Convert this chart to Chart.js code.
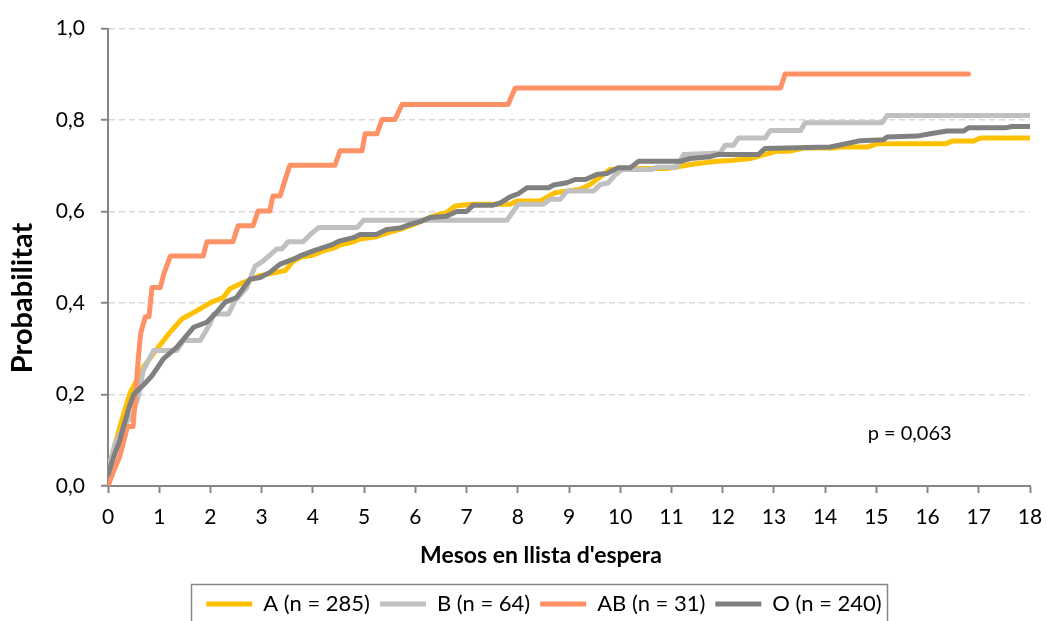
<!DOCTYPE html>
<html><head><meta charset="utf-8">
<script src="https://cdn.jsdelivr.net/npm/chart.js@4.4.1/dist/chart.umd.min.js"></script>
<style>html,body{margin:0;padding:0;background:#fff;overflow:hidden}#wrap{position:relative;width:1047px;height:621px}</style>
</head><body><div id="wrap"><canvas id="c" width="1047" height="621"></canvas></div>
<script>
const FONT = 'Lato, "Liberation Sans", sans-serif';
const seriesLabels = ['A (n = 285)', 'B (n = 64)', 'AB (n = 31)', 'O (n = 240)'];
const seriesColors = ['#FFC000', '#C0C0C0', '#FF9166', '#808080'];
const xTitle = "Mesos en llista d'espera";
const yTitle = 'Probabilitat';
const pText = 'p = 0,063';
const xTickValues = [0,1,2,3,4,5,6,7,8,9,10,11,12,13,14,15,16,17,18];
const yTickValues = [0, 0.2, 0.4, 0.6, 0.8, 1.0];

const aMonths = [0,0.04,0.23,0.43,0.69,0.98,1.21,1.44,1.73,2.02,2.25,2.38,2.64,2.97,3.29,3.46,3.6,3.75,4.01,4.2,4.4,4.53,4.79,4.92,5.24,5.44,5.7,5.9,6.1,6.35,6.61,6.78,7.1,7.85,7.98,8.44,8.73,9.22,9.41,9.67,9.8,10.26,10.91,11.18,11.43,11.89,12.21,12.54,12.83,13.06,13.32,13.58,14.16,14.3,14.82,15.01,16.35,16.48,16.9,17.03,18];
const aProb = [0.035,0.05,0.129,0.203,0.26,0.303,0.336,0.365,0.383,0.402,0.412,0.431,0.445,0.46,0.467,0.471,0.49,0.5,0.505,0.514,0.52,0.527,0.534,0.54,0.545,0.553,0.561,0.569,0.578,0.59,0.598,0.612,0.616,0.616,0.623,0.623,0.641,0.649,0.659,0.681,0.692,0.694,0.694,0.699,0.704,0.71,0.712,0.716,0.725,0.732,0.732,0.739,0.739,0.741,0.741,0.748,0.748,0.754,0.754,0.761,0.761];

const bMonths = [0,0.04,0.14,0.3,0.49,0.59,0.69,0.89,1.34,1.47,1.8,1.99,2.06,2.35,2.48,2.71,2.87,3.03,3.16,3.29,3.39,3.52,3.81,3.95,4.11,4.86,4.99,7.79,8.01,8.5,8.63,8.83,8.96,9.48,9.61,9.77,9.9,10.03,10.62,10.71,11.1,11.24,11.95,12.05,12.21,12.31,12.83,12.93,13.52,13.61,15.11,15.21,18];
const bProb = [0.03,0.05,0.093,0.129,0.158,0.195,0.253,0.296,0.296,0.318,0.318,0.354,0.376,0.376,0.405,0.434,0.48,0.492,0.505,0.518,0.518,0.534,0.534,0.55,0.565,0.565,0.581,0.581,0.616,0.616,0.627,0.627,0.645,0.645,0.659,0.663,0.68,0.692,0.692,0.697,0.697,0.725,0.728,0.745,0.745,0.761,0.761,0.777,0.777,0.794,0.794,0.81,0.81];

const abMonths = [0,0.1,0.23,0.38,0.49,0.53,0.6,0.64,0.73,0.8,0.86,1.02,1.1,1.22,1.86,1.93,2.44,2.54,2.83,2.93,3.16,3.22,3.36,3.45,3.55,4.43,4.53,4.96,5.02,5.25,5.35,5.6,5.74,7.81,7.95,13.13,13.22,16.8];
const abProb = [0,0.03,0.065,0.13,0.13,0.19,0.29,0.335,0.37,0.37,0.434,0.434,0.467,0.503,0.503,0.534,0.534,0.569,0.569,0.601,0.601,0.634,0.634,0.667,0.701,0.701,0.733,0.733,0.77,0.77,0.801,0.801,0.834,0.834,0.87,0.87,0.901,0.901];

const oMonths = [0,0.1,0.23,0.3,0.43,0.5,0.7,0.85,0.95,1.08,1.34,1.67,1.93,2.09,2.29,2.51,2.77,2.97,3.16,3.36,3.62,3.75,4.01,4.2,4.4,4.53,4.79,4.92,5.24,5.44,5.7,5.9,6.09,6.29,6.61,6.81,7.0,7.13,7.52,7.66,7.85,8.01,8.18,8.6,8.7,8.96,9.12,9.32,9.54,9.74,9.96,10.2,10.36,11.18,11.37,11.76,11.92,12.7,12.83,14.1,14.36,14.69,15.14,15.21,15.79,16.05,16.38,16.7,16.8,17.52,17.65,18];
const oProb = [0.025,0.06,0.1,0.129,0.178,0.2,0.222,0.24,0.256,0.278,0.303,0.347,0.358,0.376,0.402,0.412,0.452,0.456,0.467,0.485,0.496,0.503,0.514,0.521,0.529,0.536,0.543,0.55,0.55,0.561,0.564,0.572,0.578,0.587,0.59,0.6,0.6,0.614,0.614,0.619,0.632,0.639,0.652,0.652,0.658,0.663,0.67,0.67,0.681,0.683,0.696,0.696,0.71,0.71,0.716,0.72,0.725,0.725,0.738,0.741,0.747,0.755,0.757,0.763,0.765,0.77,0.776,0.776,0.783,0.783,0.786,0.786];

const seriesMonths = [aMonths, bMonths, abMonths, oMonths];
const seriesProb = [aProb, bProb, abProb, oProb];

const datasets = seriesLabels.map((label, i) => ({
  label,
  data: seriesMonths[i].map((m, j) => ({x: m, y: seriesProb[i][j]})),
  borderColor: seriesColors[i],
  backgroundColor: seriesColors[i],
  borderWidth: 5,
  pointRadius: 0,
  tension: 0,
  borderCapStyle: 'round',
  borderJoinStyle: 'round',
  order: 4 - i
}));

const LEGEND_SHIFT = 29;

const extras = {
  id: 'extras',
  afterLayout(chart) {
    const lg = chart.legend;
    if (lg) { lg.left += LEGEND_SHIFT; lg.right += LEGEND_SHIFT; }
  },
  beforeDraw(chart) {
    const ctx = chart.ctx;
    ctx.save(); ctx.fillStyle = '#fff'; ctx.fillRect(0, 0, chart.width, chart.height); ctx.restore();
  },
  afterDraw(chart) {
    const ctx = chart.ctx;
    const xs = chart.scales.x, ys = chart.scales.y;
    ctx.save();
    ctx.fillStyle = '#000';
    // p-value annotation
    ctx.font = '20px ' + FONT;
    ctx.textAlign = 'center'; ctx.textBaseline = 'middle';
    ctx.fillText(pText, xs.getPixelForValue(15.65), ys.getPixelForValue(0.115));
    // x axis title
    ctx.font = 'bold 23px ' + FONT;
    ctx.textBaseline = 'alphabetic';
    ctx.fillText(xTitle, 541, 563);
    // y axis title
    ctx.save();
    ctx.translate(32, 298);
    ctx.rotate(-Math.PI / 2);
    ctx.font = 'bold 29px ' + FONT;
    ctx.fillText(yTitle, 0, 0);
    ctx.restore();
    // legend frame
    const lg = chart.legend;
    if (lg && lg.lineWidths && lg.lineWidths.length) {
      const pad = lg.options.labels.padding;
      const rowW = lg.lineWidths[0];
      const l = (lg.left + pad + lg.right - rowW) / 2;
      const r = l + rowW - pad;
      ctx.strokeStyle = '#868686'; ctx.lineWidth = 1.5;
      ctx.strokeRect(Math.round(l - 15) + 0.5, lg.top + 1.5, Math.round(r - l + 21), 60);
    }
    ctx.restore();
  }
};

new Chart(document.getElementById('c'), {
  type: 'line',
  data: { datasets },
  plugins: [extras],
  options: {
    responsive: false,
    animation: false,
    devicePixelRatio: 1,
    layout: { padding: { top: 27, right: 17, left: 0, bottom: -4 } },
    plugins: {
      tooltip: { enabled: false },
      legend: {
        position: 'bottom',
        reverse: true,
        labels: {
          color: '#000',
          font: { family: FONT, size: 22 },
          boxWidth: 46, boxHeight: 5, padding: 10,
          generateLabels(chart) {
            const items = Chart.defaults.plugins.legend.labels.generateLabels(chart);
            items.forEach(it => { it.lineWidth = 0; });
            return items;
          }
        }
      }
    },
    scales: {
      x: {
        type: 'linear', min: 0, max: 18,
        afterBuildTicks(s) { s.ticks = xTickValues.map(v => ({value: v})); },
        afterFit(s) { s.height = 97; },
        ticks: { color: '#000', font: { family: FONT, size: 21, lineHeight: 1.9 }, padding: 4, maxRotation: 0, autoSkip: false },
        grid: { drawOnChartArea: false, drawTicks: true, tickLength: 7, tickColor: '#868686', tickWidth: 2 },
        border: { color: '#868686', width: 2 }
      },
      y: {
        min: 0, max: 1,
        afterBuildTicks(s) { s.ticks = yTickValues.map(v => ({value: v})); },
        afterFit(s) { s.width = 108; },
        ticks: { color: '#000', font: { family: FONT, size: 21 }, padding: 16,
          callback: v => v.toFixed(1).replace('.', ',') },
        grid: { color: '#D9D9D9', lineWidth: 1.5, tickLength: 7, tickColor: '#868686', tickWidth: 2, tickBorderDash: [] },
        border: { color: '#868686', width: 2, dash: [6, 4] }
      }
    }
  }
});
</script></body></html>
